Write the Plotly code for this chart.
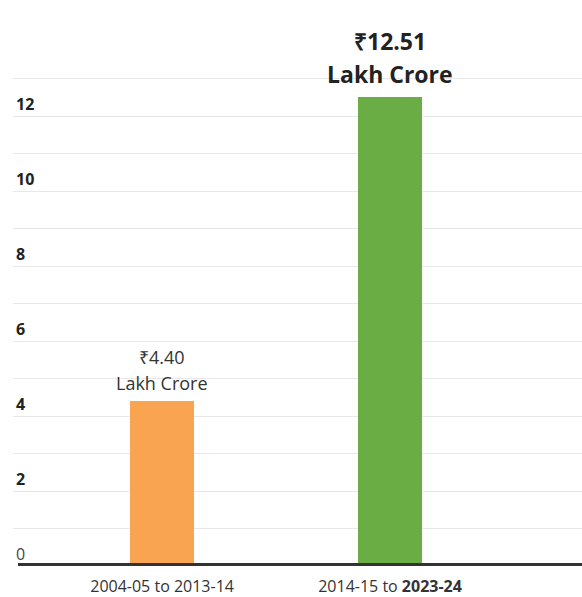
import plotly.graph_objects as go

# Periods and cumulative amounts (₹ lakh crore)
periods = ["2004-05 to 2013-14", "2014-15 to <b>2023-24</b>"]
amounts = [4.40, 12.51]
bar_colors = ["#F9A450", "#6AAD45"]

# Y axis: a gridline every unit, labels on even values
grid_vals = list(range(0, 14))
tick_labels = ["<span style='font-weight:normal;color:#444'>0</span>"] + [
    f"<b>{v}</b>" if v % 2 == 0 else "" for v in grid_vals[1:]
]

W, H = 582, 597
m_l, m_r, m_t, m_b = 13, 0, 60, 31
px_per_unit = 37.5
y_top = (H - m_t - m_b) / px_per_unit

fig = go.Figure()
fig.add_trace(go.Bar(
    x=[0, 1],
    y=amounts,
    marker=dict(color=bar_colors, line=dict(width=0)),
    width=0.28,
    hoverinfo="skip",
))

# Value labels above each bar: (font size, colour, weight, unit-line offset, line gap)
label_styles = [
    (18, "#333333", "normal", 18, 26),
    (23, "#222222", "bold", 23, 33),
]
for i, (v, (size, color, weight, off, gap)) in enumerate(zip(amounts, label_styles)):
    font = dict(family="Open Sans", size=size, color=color, weight=weight)
    fig.add_annotation(
        x=i, y=v, xref="x", yref="y", text="Lakh Crore", showarrow=False,
        yanchor="middle", yshift=off, font=font,
    )
    fig.add_annotation(
        x=i, y=v, xref="x", yref="y", text=f"₹{v:.2f}", showarrow=False,
        yanchor="middle", yshift=off + gap, font=font,
    )

# Heavy baseline at zero
fig.add_shape(
    type="line", xref="paper", yref="y",
    x0=5 / (W - m_l - m_r), x1=1, y0=0, y1=0,
    line=dict(color="#333333", width=6),
    layer="above",
)

fig.update_layout(
    width=W, height=H,
    margin=dict(l=m_l, r=m_r, t=m_t, b=m_b),
    paper_bgcolor="white",
    plot_bgcolor="white",
    showlegend=False,
    bargap=0,
    font=dict(family="Open Sans", color="#333333"),
    xaxis=dict(
        range=[-0.654, 1.842],
        tickvals=[0, 1],
        ticktext=periods,
        showgrid=False,
        zeroline=False,
        showline=False,
        ticks="",
        ticklabelstandoff=9,
        automargin=False,
        tickfont=dict(family="Open Sans", size=16, color="#333333"),
        fixedrange=True,
    ),
    yaxis=dict(
        range=[0, y_top],
        tickvals=grid_vals,
        ticktext=tick_labels,
        ticklabelposition="inside top",
        showgrid=True,
        gridcolor="#E8E8E8",
        gridwidth=1,
        zeroline=False,
        showline=False,
        ticks="",
        automargin=False,
        tickfont=dict(family="Open Sans", size=16, color="#222222"),
        fixedrange=True,
    ),
)

fig.write_html("out.html")
